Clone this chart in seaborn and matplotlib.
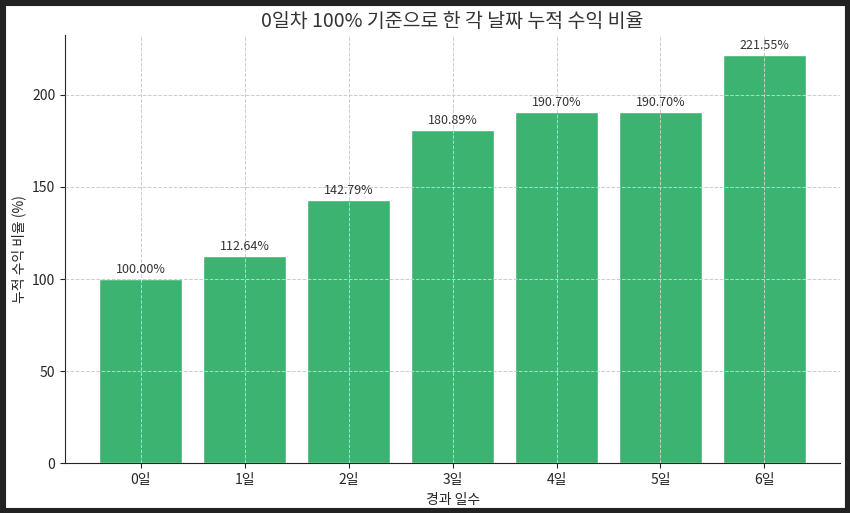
import matplotlib
matplotlib.use("Agg")
import matplotlib.pyplot as plt
import seaborn as sns
import pandas as pd

days = ["0일", "1일", "2일", "3일", "4일", "5일", "6일"]
ratios = [100.00, 112.64, 142.79, 180.89, 190.70, 190.70, 221.55]

sns.set_style("ticks")
plt.rcParams["font.family"] = ["Noto Sans CJK KR", "DejaVu Sans"]

df = pd.DataFrame({"day": days, "ratio": ratios})

fig = plt.figure(figsize=(8.5, 5.13), dpi=100)
ax = fig.add_axes([0.0765, 0.097, 0.912, 0.835])
sns.barplot(data=df, x="day", y="ratio", color="#3cb371", saturation=1, width=0.8, ax=ax, zorder=2)
ax.grid(True, linestyle="--", linewidth=0.7, color="#cccccc", zorder=0)
ax.set_axisbelow(False)
for p in ax.patches:
    p.set_zorder(1)
for i, v in enumerate(ratios):
    ax.text(i, v + 1.5, f"{v:.2f}%", ha="center", va="bottom", fontsize=9, color="#333333", zorder=3)
ax.set_xlim(-0.73, 6.73)
ax.set_ylim(0, 232.5)
ax.set_xlabel("경과 일수", fontsize=10)
ax.set_ylabel("누적 수익 비율 (%)", fontsize=10)
ax.set_title("0일차 100% 기준으로 한 각 날짜 누적 수익 비율", fontsize=14, color="#333333")
ax.tick_params(labelsize=10)
sns.despine(ax=ax)

fig.patches.append(plt.Rectangle((0, 0), 1, 1, transform=fig.transFigure, fill=False,
                                 edgecolor="#222222", linewidth=8))
fig.savefig("out.png", dpi=100, facecolor="white")
